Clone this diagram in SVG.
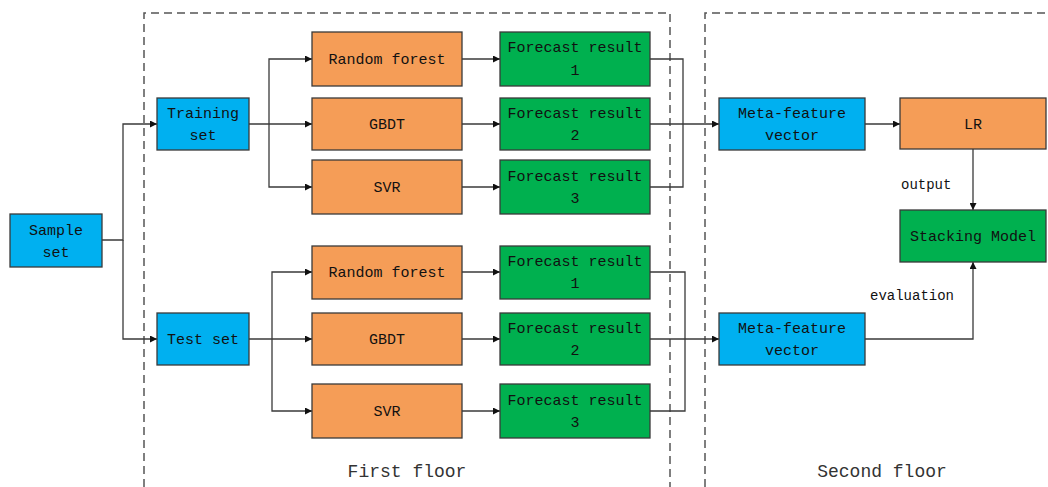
<svg xmlns="http://www.w3.org/2000/svg" width="1048" height="487" viewBox="0 0 1048 487">
<style>
.box{stroke:#3a3a3a;stroke-width:1.3}
.blue{fill:#00B0F0}.orange{fill:#F59D57}.green{fill:#00B04F}
text{font-family:"Liberation Mono","DejaVu Sans Mono",monospace;font-size:15px;fill:#111;text-anchor:middle}
.lbl{font-size:14px;text-anchor:start}
.floor{font-size:18px;fill:#333}
.c{fill:none;stroke:#3a3a3a;stroke-width:1.3}
.dash{fill:none;stroke:#555;stroke-width:1.5;stroke-dasharray:8,5}
</style>
<defs>
<marker id="ah" viewBox="0 0 10 10" refX="10" refY="5" markerWidth="7" markerHeight="7" markerUnits="userSpaceOnUse" orient="auto">
<path d="M0,0 L10,5 L0,10 z" fill="#111"/>
</marker>
</defs>
<rect width="1048" height="487" fill="#fff"/>
<g id="frames">
<path class="dash" d="M144,487 V13 H670 V487"/>
<path class="dash" d="M705,487 V13 H1048"/>
</g>
<g id="connectors">
<path class="c" d="M102,240 H123 V124 H157" marker-end="url(#ah)"/>
<path class="c" d="M123,240 V339 H157" marker-end="url(#ah)"/>
<path class="c" d="M249,124 H312" marker-end="url(#ah)"/>
<path class="c" d="M269,124 V59 H312" marker-end="url(#ah)"/>
<path class="c" d="M269,124 V187 H312" marker-end="url(#ah)"/>
<path class="c" d="M462,59 H500" marker-end="url(#ah)"/>
<path class="c" d="M462,124 H500" marker-end="url(#ah)"/>
<path class="c" d="M462,187 H500" marker-end="url(#ah)"/>
<path class="c" d="M650,59 H683 V187 H650"/>
<path class="c" d="M650,124 H719" marker-end="url(#ah)"/>
<path class="c" d="M249,339 H312" marker-end="url(#ah)"/>
<path class="c" d="M272,339 V272 H312" marker-end="url(#ah)"/>
<path class="c" d="M272,339 V411 H312" marker-end="url(#ah)"/>
<path class="c" d="M462,272 H500" marker-end="url(#ah)"/>
<path class="c" d="M462,339 H500" marker-end="url(#ah)"/>
<path class="c" d="M462,411 H500" marker-end="url(#ah)"/>
<path class="c" d="M650,272 H685 V411 H650"/>
<path class="c" d="M650,339 H719" marker-end="url(#ah)"/>
<path class="c" d="M865,124 H900" marker-end="url(#ah)"/>
<path class="c" d="M973,149 V210" marker-end="url(#ah)"/>
<path class="c" d="M865,339 H973 V262" marker-end="url(#ah)"/>
<text class="lbl" x="901" y="189">output</text>
<text class="lbl" x="870" y="300">evaluation</text>
</g>
<g id="sample"><rect class="box blue" x="10" y="214" width="92" height="53"/><text x="56" y="235">Sample</text><text x="56" y="257">set</text></g>
<g id="training"><rect class="box blue" x="157" y="98" width="92" height="52"/><text x="203" y="118">Training</text><text x="203" y="140">set</text></g>
<g id="test"><rect class="box blue" x="157" y="313" width="92" height="52"/><text x="203" y="344">Test set</text></g>
<g id="rf1"><rect class="box orange" x="312" y="32" width="150" height="54"/><text x="387" y="64">Random forest</text></g>
<g id="gbdt1"><rect class="box orange" x="312" y="98" width="150" height="52"/><text x="387" y="129">GBDT</text></g>
<g id="svr1"><rect class="box orange" x="312" y="160" width="150" height="54"/><text x="387" y="192">SVR</text></g>
<g id="fr1"><rect class="box green" x="500" y="32" width="150" height="54"/><text x="575" y="52">Forecast result</text><text x="575" y="75">1</text></g>
<g id="fr2"><rect class="box green" x="500" y="98" width="150" height="52"/><text x="575" y="118">Forecast result</text><text x="575" y="140">2</text></g>
<g id="fr3"><rect class="box green" x="500" y="160" width="150" height="54"/><text x="575" y="181">Forecast result</text><text x="575" y="203">3</text></g>
<g id="rf2"><rect class="box orange" x="312" y="246" width="150" height="53"/><text x="387" y="277">Random forest</text></g>
<g id="gbdt2"><rect class="box orange" x="312" y="313" width="150" height="52"/><text x="387" y="344">GBDT</text></g>
<g id="svr2"><rect class="box orange" x="312" y="384" width="150" height="54"/><text x="387" y="416">SVR</text></g>
<g id="fr4"><rect class="box green" x="500" y="246" width="150" height="53"/><text x="575" y="266">Forecast result</text><text x="575" y="288">1</text></g>
<g id="fr5"><rect class="box green" x="500" y="313" width="150" height="52"/><text x="575" y="333">Forecast result</text><text x="575" y="355">2</text></g>
<g id="fr6"><rect class="box green" x="500" y="384" width="150" height="54"/><text x="575" y="405">Forecast result</text><text x="575" y="427">3</text></g>
<g id="meta1"><rect class="box blue" x="719" y="98" width="146" height="52"/><text x="792" y="118">Meta-feature</text><text x="792" y="140">vector</text></g>
<g id="meta2"><rect class="box blue" x="719" y="313" width="146" height="52"/><text x="792" y="333">Meta-feature</text><text x="792" y="355">vector</text></g>
<g id="lr"><rect class="box orange" x="900" y="98" width="146" height="51"/><text x="973" y="129">LR</text></g>
<g id="stack"><rect class="box green" x="900" y="210" width="146" height="52"/><text x="973" y="241">Stacking Model</text></g>
<text class="floor" x="407" y="477">First floor</text>
<text class="floor" x="882" y="477">Second floor</text>
</svg>
